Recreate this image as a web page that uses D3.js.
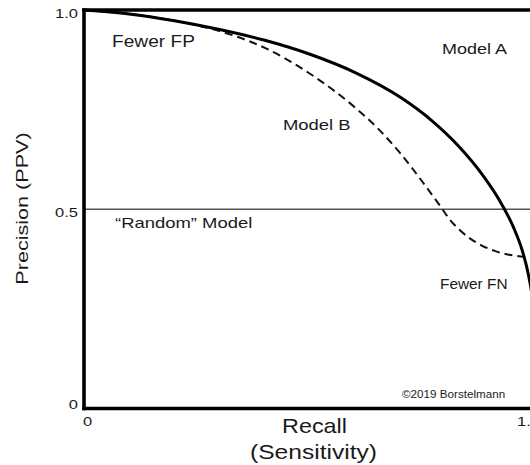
<!DOCTYPE html>
<html>
<head>
<meta charset="utf-8">
<script src="https://cdn.jsdelivr.net/npm/d3@7"></script>
<style>
  html, body { margin: 0; padding: 0; background: #fff; }
  svg { display: block; }
  text { font-family: "Liberation Sans", Arial, Helvetica, sans-serif; fill: #1a1a1a; }
</style>
</head>
<body>
<svg id="chart" width="530" height="465"></svg>
<script>
// ---- data ----
const modelA_recall    = [0, 0.1, 0.2, 0.3, 0.4, 0.5, 0.6, 0.7, 0.77, 0.83, 0.88, 0.92, 0.95, 0.97, 0.983, 0.992, 0.997, 1.0];
const modelA_precision = [1.0, 0.99, 0.973, 0.951, 0.924, 0.889, 0.843, 0.781, 0.722, 0.657, 0.589, 0.521, 0.455, 0.395, 0.337, 0.274, 0.204, 0.0];
const modelB_recall    = [0, 0.1, 0.2, 0.3, 0.4, 0.5, 0.6, 0.65, 0.7, 0.75, 0.79, 0.81, 0.83, 0.85, 0.88, 0.91, 0.94, 0.976];
const modelB_precision = [1.0, 0.99, 0.973, 0.947, 0.905, 0.84, 0.755, 0.703, 0.64, 0.567, 0.505, 0.473, 0.449, 0.43, 0.409, 0.395, 0.386, 0.38];
const randomPrecision = 0.5;
const yTicks = [0, 0.5, 1.0];
const yTickLabels = ["0", "0.5", "1.0"];
const xTicks = [0, 1.0];
const xTickLabels = ["0", "1.0"];

// ---- layout ----
const svg = d3.select("#chart");
const x = d3.scaleLinear().domain([0, 1]).range([84, 536]);
const y = d3.scaleLinear().domain([0, 1]).range([408.5, 10]);

function label(px, py, str, size, sx, anchor, rot) {
  const r = rot ? ` rotate(${rot})` : "";
  svg.append("text")
    .attr("transform", `translate(${px},${py})${r} scale(${sx},1)`)
    .attr("font-size", size)
    .attr("text-anchor", anchor || "start")
    .text(str);
}

// random model line
svg.append("line")
  .attr("x1", x(0)).attr("x2", 540)
  .attr("y1", y(randomPrecision)).attr("y2", y(randomPrecision))
  .attr("stroke", "#555").attr("stroke-width", 1.6);

// curves
const line = d3.line()
  .x(d => x(d[0])).y(d => y(d[1]))
  .curve(d3.curveMonotoneX);

const dataA = modelA_recall.map((r, i) => [r, modelA_precision[i]]);
const dataB = modelB_recall.map((r, i) => [r, modelB_precision[i]]);

svg.append("path").attr("d", line(dataB))
  .attr("fill", "none").attr("stroke", "#111").attr("stroke-width", 2)
  .attr("stroke-dasharray", "8,5");

svg.append("path").attr("d", line(dataA))
  .attr("fill", "none").attr("stroke", "#000").attr("stroke-width", 3);

// frame: left, top, bottom
svg.append("line").attr("x1", x(0)).attr("x2", x(0)).attr("y1", y(1) - 1.8).attr("y2", y(0) + 1.8)
  .attr("stroke", "#000").attr("stroke-width", 3.6);
svg.append("line").attr("x1", x(0) - 1.8).attr("x2", 540).attr("y1", y(1)).attr("y2", y(1))
  .attr("stroke", "#000").attr("stroke-width", 3.6);
svg.append("line").attr("x1", x(0) - 1.8).attr("x2", 540).attr("y1", y(0)).attr("y2", y(0))
  .attr("stroke", "#000").attr("stroke-width", 3.6);

// y tick labels
yTicks.forEach((v, i) => {
  label(x(0) - 6, y(v) + (v === 0 ? 0 : 7.5), yTickLabels[i], 12.5, 1.32, "end");
});
// x tick labels
xTicks.forEach((v, i) => {
  label(v === 0 ? x(v) - 1 : x(v) - 19, y(0) + 17.5, xTickLabels[i], 12.5, 1.32, "start");
});

// annotations
label(112, 47, "Fewer FP", 16.5, 1.16);
label(442, 54, "Model A", 15, 1.2);
label(283, 130, "Model B", 15, 1.23);
label(115, 228, "\u201CRandom\u201D Model", 15, 1.23);
label(440, 289, "Fewer FN", 14, 1.1);
label(402, 398, "\u00A92019 Borstelmann", 11, 1.06);

// axis titles
label(314.5, 433, "Recall", 20, 1.17, "middle");
label(313.5, 459, "(Sensitivity)", 20, 1.23, "middle");
label(28, 208.5, "Precision (PPV)", 17, 1.27, "middle", -90);
</script>
</body>
</html>
